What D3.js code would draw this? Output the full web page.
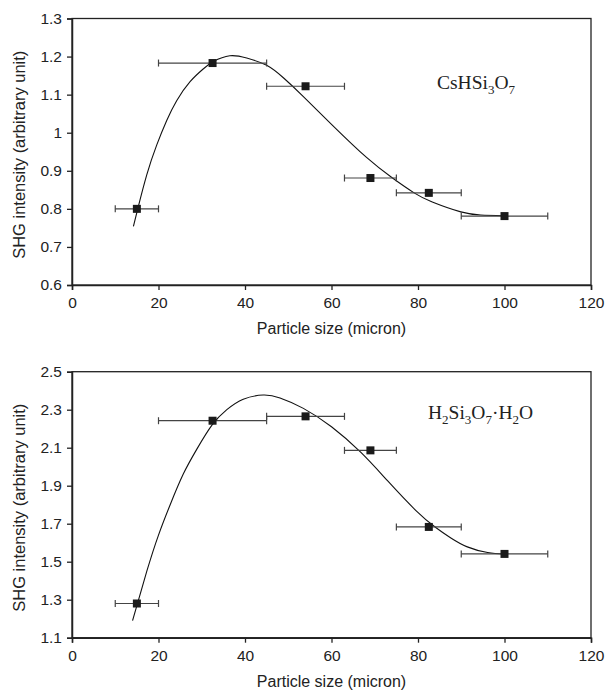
<!DOCTYPE html>
<html>
<head>
<meta charset="utf-8">
<script src="https://cdn.jsdelivr.net/npm/d3@7"></script>
<style>
  body { margin: 0; background: #fff; }
  svg { display: block; }
  .tick text { font-family: "Liberation Sans", Arial, sans-serif; font-size: 15.5px; fill: #222; }
</style>
</head>
<body>
<div id="container"></div>
<script>
// data
let sizes = [15, 32.5, 54, 69, 82.5, 100];
let sizeLow = [10, 20, 45, 63, 75, 90];
let sizeHigh = [20, 45, 63, 75, 90, 110];

let csValues = [0.80, 1.183, 1.122, 0.881, 0.842, 0.781];
let h2Values = [1.28, 2.242, 2.265, 2.086, 1.683, 1.541];

// fitted curves (traced)
let csFitX = [14.2, 15.2, 17.3, 19.6, 21.9, 24.2, 27.3, 30.4, 32.7, 36.5, 40.4, 45, 49, 53.5, 60, 68.1, 74.1, 79.1, 83.3, 89.9, 94.5, 99.9];
let csFitY = [0.754, 0.800, 0.890, 0.968, 1.032, 1.084, 1.134, 1.168, 1.187, 1.202, 1.196, 1.177, 1.143, 1.095, 1.022, 0.935, 0.881, 0.842, 0.818, 0.792, 0.784, 0.782];

let h2FitX = [14.0, 17.3, 20.0, 22.7, 25.7, 28.8, 32.4, 35.8, 39.6, 44.2, 48.1, 53.5, 60, 66.8, 73, 79.4, 84.1, 87.6, 91.4, 96.1, 100];
let h2FitY = [1.19, 1.45, 1.64, 1.80, 1.96, 2.09, 2.22, 2.30, 2.355, 2.377, 2.362, 2.307, 2.21, 2.075, 1.925, 1.772, 1.68, 1.625, 1.578, 1.548, 1.54];

let xTicks = [0, 20, 40, 60, 80, 100, 120];
let csTicks = [0.6, 0.7, 0.8, 0.9, 1, 1.1, 1.2, 1.3];
let h2Ticks = [1.1, 1.3, 1.5, 1.7, 1.9, 2.1, 2.3, 2.5];

let w = 608;
let h = 691;

let viz = d3.select("#container")
  .append("svg")
    .attr("width", w)
    .attr("height", h);

let xLeft = 72, xRight = 591;

function drawPanel(cfg){
  let xScale = d3.scaleLinear().domain([0, 120]).range([xLeft, xRight]);
  let yScale = d3.scaleLinear().domain([cfg.ticks[0], cfg.ticks[cfg.ticks.length-1]]).range([cfg.bottom, cfg.top]);

  let g = viz.append("g");

  // frame
  g.append("rect")
    .attr("x", xLeft).attr("y", cfg.top)
    .attr("width", xRight - xLeft).attr("height", cfg.bottom - cfg.top)
    .attr("fill", "none").attr("stroke", "#222").attr("stroke-width", 1.3);

  let xAxis = d3.axisBottom(xScale).tickValues(xTicks).tickSize(5).tickPadding(7).tickFormat(d3.format(""));
  let xAxisGroup = g.append("g").attr("transform", "translate(0," + cfg.bottom + ")").call(xAxis);

  let yAxis = d3.axisLeft(yScale).tickValues(cfg.ticks).tickSize(5).tickPadding(5).tickFormat(d3.format(""));
  let yAxisGroup = g.append("g").attr("transform", "translate(" + xLeft + ",0)").call(yAxis);

  [xAxisGroup, yAxisGroup].forEach(a => {
    a.select(".domain").attr("stroke", "#222").attr("stroke-width", 1.5);
    a.selectAll(".tick line").attr("stroke", "#222").attr("stroke-width", 1.3);
  });

  // axis titles
  g.append("text")
    .attr("x", (xLeft + xRight) / 2).attr("y", cfg.bottom + 49)
    .attr("text-anchor", "middle")
    .style("font-family", "'Liberation Sans', Arial, sans-serif").style("font-size", "16px").attr("fill", "#222")
    .text("Particle size (micron)");

  g.append("text")
    .attr("transform", "translate(25," + ((cfg.top + cfg.bottom) / 2 + 3) + ") rotate(-90)")
    .attr("text-anchor", "middle")
    .style("font-family", "'Liberation Sans', Arial, sans-serif").style("font-size", "16.5px").attr("fill", "#222")
    .text("SHG intensity (arbitrary unit)");

  // fitted curve
  let line = d3.line()
    .x(d => xScale(d[0])).y(d => yScale(d[1]))
    .curve(d3.curveNatural);
  g.append("path")
    .datum(cfg.fitX.map((x, i) => [x, cfg.fitY[i]]))
    .attr("d", line)
    .attr("fill", "none").attr("stroke", "#111").attr("stroke-width", 1.1);

  // error bars
  let pts = sizes.map((s, i) => ({x: s, lo: sizeLow[i], hi: sizeHigh[i], y: cfg.values[i]}));
  let eb = g.selectAll(".errbar").data(pts).enter().append("g").attr("class", "errbar");
  eb.append("line")
    .attr("x1", d => xScale(d.lo)).attr("x2", d => xScale(d.hi))
    .attr("y1", d => yScale(d.y)).attr("y2", d => yScale(d.y))
    .attr("stroke", "#444").attr("stroke-width", 1.2);
  eb.append("line")
    .attr("x1", d => xScale(d.lo)).attr("x2", d => xScale(d.lo))
    .attr("y1", d => yScale(d.y) - 3.5).attr("y2", d => yScale(d.y) + 3.5)
    .attr("stroke", "#444").attr("stroke-width", 1.2);
  eb.append("line")
    .attr("x1", d => xScale(d.hi)).attr("x2", d => xScale(d.hi))
    .attr("y1", d => yScale(d.y) - 3.5).attr("y2", d => yScale(d.y) + 3.5)
    .attr("stroke", "#444").attr("stroke-width", 1.2);

  // markers
  g.selectAll(".datapoint").data(pts).enter().append("rect")
    .attr("class", "datapoint")
    .attr("x", d => xScale(d.x) - 4).attr("y", d => yScale(d.y) - 4)
    .attr("width", 8).attr("height", 8)
    .attr("fill", "#1a1a1a");

  // compound label
  let t = g.append("text")
    .attr("x", cfg.labelX).attr("y", cfg.labelY)
    .style("font-family", "'Liberation Serif', 'Times New Roman', serif").style("font-size", "19.5px").attr("fill", "#222");
  cfg.label.forEach(part => {
    let sp = t.append("tspan").text(part[0]);
    if (part[1]) sp.attr("dy", 5).style("font-size", "13px");
    else if (part[2]) sp.attr("dy", -5);
  });
}

drawPanel({
  top: 18.5, bottom: 285,
  ticks: csTicks, values: csValues, fitX: csFitX, fitY: csFitY,
  labelX: 437, labelY: 89,
  label: [["CsHSi"], ["3", true], ["O", false, true], ["7", true]]
});

drawPanel({
  top: 371.7, bottom: 637.7,
  ticks: h2Ticks, values: h2Values, fitX: h2FitX, fitY: h2FitY,
  labelX: 428, labelY: 419,
  label: [["H"], ["2", true], ["Si", false, true], ["3", true], ["O", false, true], ["7", true], ["\u00B7H", false, true], ["2", true], ["O", false, true]]
});
</script>
</body>
</html>
